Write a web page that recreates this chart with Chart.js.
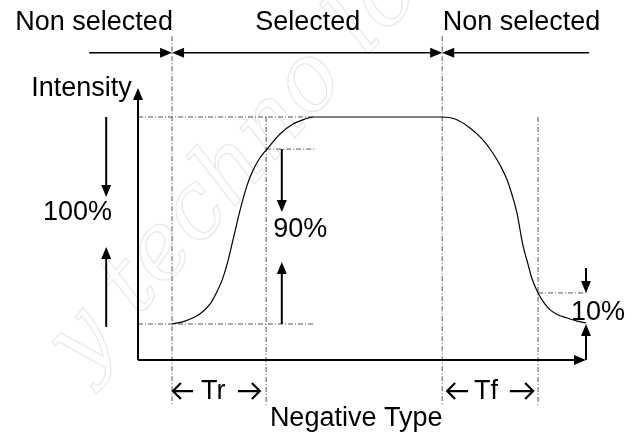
<!DOCTYPE html>
<html>
<head>
<meta charset="utf-8">
<script src="https://cdn.jsdelivr.net/npm/chart.js@4.4.1/dist/chart.umd.min.js"></script>
<style>
  html, body { margin: 0; padding: 0; background: #fff; }
  #wrap { width: 635px; height: 439px; }
</style>
</head>
<body>
<div id="wrap"><canvas id="chart"></canvas></div>
<script>
// time: 0 = intensity axis, 100 = tip of the time arrow
// level: 0 = non selected level, 100 = selected level
const riseTime = [7.6, 10.5, 13.8, 16.1, 17.6, 18.8, 19.9, 21.2, 22.8, 24.3, 25.7, 27.2, 28.8, 31.7, 34.6, 37.3, 39.1];
const riseLevel = [0, 1.4, 4.8, 9.7, 15.5, 21.3, 29.0, 40.6, 55.1, 66.7, 74.4, 80.2, 84.5, 91.8, 96.6, 99.0, 100];
const fallTime = [67.9, 70.8, 74.1, 76.8, 79.2, 80.8, 82.4, 83.5, 84.6, 85.9, 87.1, 87.9, 89.3, 90.8, 92.0, 93.8, 95.8, 98.0, 100];
const fallLevel = [100, 99.0, 94.7, 89.4, 82.6, 76.8, 69.6, 62.3, 53.6, 38.2, 28.5, 22.2, 15.0, 9.7, 6.8, 4.3, 2.9, 1.4, 0.5];

// selected on, 90% reached, selected off, 10% reached
const markTimes = [7.6, 28.6, 67.9, 89.3];
const lowLevel = 0;
const tenLevel = 15;
const ninetyLevel = 84.5;
const highLevel = 100;

const timeRange = [0, 100];
const levelRange = [-17.4, 114];

const FONT = '27px "Liberation Sans", Arial, sans-serif';

function seg(x1, y1, x2, y2) {
  return [{ x: x1, y: y1 }, { x: x2, y: y2 }];
}

function guide(points) {
  return {
    data: points,
    borderColor: '#555',
    borderWidth: 1,
    borderDash: [5, 2, 1, 2],
    pointRadius: 0,
    clip: false,
    fill: false
  };
}

const curve = riseTime.map((t, i) => ({ x: t, y: riseLevel[i] }))
  .concat(fallTime.map((t, i) => ({ x: t, y: fallLevel[i] })));

const topRow = 131;
const lineBottom = -39;
const lineTop = 139;
const timeRow = -32.4;

// arrows in chart units: [x1, y1, x2, y2, heads at both ends, line width]
const arrows = [
  [timeRange[0], levelRange[0], timeRange[0], levelRange[1], false, 2],
  [timeRange[0], levelRange[0], timeRange[1], levelRange[0], false, 2],
  [-10.9, topRow, markTimes[0], topRow, false, 1.6],
  [markTimes[0], topRow, markTimes[2], topRow, true, 1.6],
  [100.7, topRow, markTimes[2], topRow, false, 1.6],
  [-7.1, highLevel, -7.1, 61.4, false, 2],
  [-7.1, lowLevel - 1.4, -7.1, 37.2, false, 2],
  [32.1, ninetyLevel, 32.1, 54.1, false, 2],
  [32.1, lowLevel, 32.1, 30.0, false, 2],
  [100, 27.1, 100, tenLevel, false, 2],
  [100, levelRange[0], 100, lowLevel, false, 2]
];

// open arrows next to Tr / Tf: [from, to] along the time row
const timeArrows = [[12.3, 7.8], [22.3, 27.2], [73.7, 69.0], [83.0, 88.2]];

const labels = [
  ['Non selected', -9.8, 145.4],
  ['Selected', 37.9, 145.4],
  ['Non selected', 85.6, 145.4],
  ['Intensity', -12.6, 113.5],
  ['100%', -13.5, 53.6],
  ['90%', 36.2, 45.4],
  ['10%', 102.7, 5.6],
  ['Tr', 16.8, timeRow],
  ['Tf', 77.7, timeRow],
  ['Negative Type', 48.7, -45.9]
];

function drawHead(ctx, fx, fy, tx, ty) {
  const a = Math.atan2(ty - fy, tx - fx);
  const len = 12, half = 5;
  ctx.beginPath();
  ctx.moveTo(tx, ty);
  ctx.lineTo(tx - len * Math.cos(a) + half * Math.sin(a), ty - len * Math.sin(a) - half * Math.cos(a));
  ctx.lineTo(tx - len * Math.cos(a) - half * Math.sin(a), ty - len * Math.sin(a) + half * Math.cos(a));
  ctx.closePath();
  ctx.fill();
}

const annotate = {
  id: 'annotate',
  beforeDatasetsDraw(chart) {
    // faint watermark
    const ctx = chart.ctx;
    ctx.save();
    ctx.translate(235, 170);
    ctx.rotate(-0.85);
    ctx.font = 'italic 92px "DejaVu Serif", serif';
    ctx.textAlign = 'center';
    ctx.textBaseline = 'middle';
    ctx.strokeStyle = 'rgba(0,0,0,0.10)';
    ctx.lineWidth = 1.2;
    ctx.strokeText('y techno lo', 0, 0);
    ctx.restore();
  },
  afterDatasetsDraw(chart) {
    const ctx = chart.ctx;
    const xs = chart.scales.x, ys = chart.scales.y;
    ctx.save();
    ctx.fillStyle = '#000';
    ctx.strokeStyle = '#000';
    arrows.forEach(([x1, y1, x2, y2, both, w]) => {
      const px1 = xs.getPixelForValue(x1), py1 = ys.getPixelForValue(y1);
      const px2 = xs.getPixelForValue(x2), py2 = ys.getPixelForValue(y2);
      const d = Math.hypot(px2 - px1, py2 - py1);
      const ux = (px2 - px1) / d, uy = (py2 - py1) / d;
      const sx = both ? px1 + ux * 10 : px1, sy = both ? py1 + uy * 10 : py1;
      ctx.lineWidth = w;
      ctx.beginPath();
      ctx.moveTo(sx, sy);
      ctx.lineTo(px2 - ux * 10, py2 - uy * 10);
      ctx.stroke();
      drawHead(ctx, px1, py1, px2, py2);
      if (both) drawHead(ctx, px2, py2, px1, py1);
    });

    // open chevron arrows around Tr and Tf
    const py = ys.getPixelForValue(timeRow);
    ctx.lineWidth = 2.2;
    ctx.lineJoin = 'miter';
    timeArrows.forEach(([from, to]) => {
      const a = xs.getPixelForValue(from), b = xs.getPixelForValue(to);
      const dir = Math.sign(b - a);
      ctx.beginPath();
      ctx.moveTo(a, py);
      ctx.lineTo(b - dir * 1, py);
      ctx.moveTo(b - dir * 8, py - 8);
      ctx.lineTo(b, py);
      ctx.lineTo(b - dir * 8, py + 8);
      ctx.stroke();
    });

    ctx.font = FONT;
    ctx.textAlign = 'center';
    ctx.textBaseline = 'middle';
    labels.forEach(([text, t, v]) => {
      ctx.fillText(text, xs.getPixelForValue(t), ys.getPixelForValue(v));
    });
    ctx.restore();
  }
};

new Chart(document.getElementById('chart'), {
  type: 'line',
  data: {
    datasets: [
      {
        data: curve,
        borderColor: '#000',
        borderWidth: 1.2,
        pointRadius: 0,
        cubicInterpolationMode: 'monotone',
        fill: false
      },
      guide(seg(timeRange[0], highLevel, riseTime[riseTime.length - 1], highLevel)),
      guide(seg(markTimes[1], ninetyLevel, 39.5, ninetyLevel)),
      guide(seg(timeRange[0], lowLevel, 39.5, lowLevel)),
      guide(seg(markTimes[3], tenLevel, timeRange[1], tenLevel)),
      guide(seg(markTimes[0], lineTop, markTimes[0], lineBottom)),
      guide(seg(markTimes[2], lineTop, markTimes[2], lineBottom)),
      guide(seg(markTimes[1], highLevel, markTimes[1], lineBottom)),
      guide(seg(markTimes[3], highLevel, markTimes[3], lineBottom))
    ]
  },
  options: {
    responsive: true,
    maintainAspectRatio: false,
    animation: false,
    layout: { padding: { left: 138, right: 49, top: 88, bottom: 79 } },
    scales: {
      x: { type: 'linear', min: timeRange[0], max: timeRange[1], display: false },
      y: { type: 'linear', min: levelRange[0], max: levelRange[1], display: false }
    },
    plugins: {
      legend: { display: false },
      tooltip: { enabled: false }
    }
  },
  plugins: [annotate]
});
</script>
</body>
</html>
